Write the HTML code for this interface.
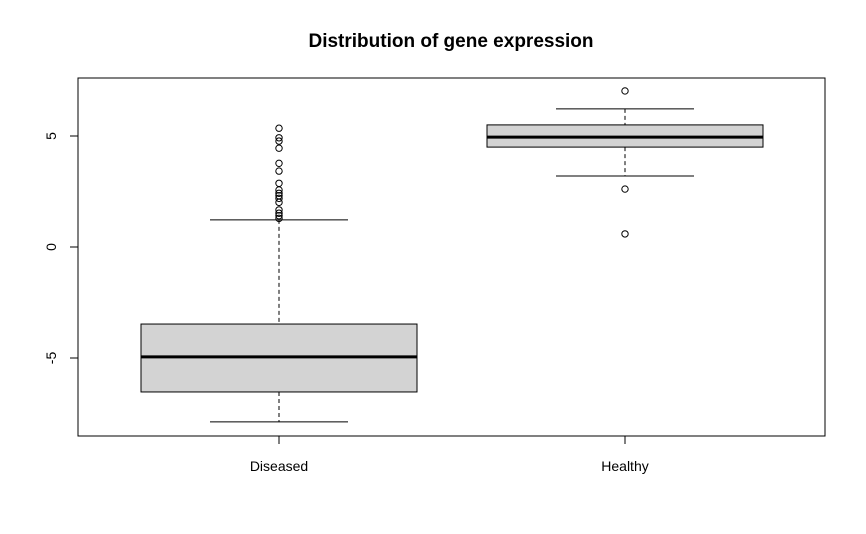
<!DOCTYPE html>
<html><head><meta charset="utf-8"><style>
body{margin:0;background:#fff}
svg{display:block;font-family:"Liberation Sans",Arial,sans-serif}
</style></head><body>
<svg id="chart" width="866" height="534">
<text x="451" y="47" text-anchor="middle" font-size="19" font-weight="bold">Distribution of gene expression</text>
<rect x="78" y="78" width="747" height="358" fill="none" stroke="#000" stroke-width="1"/>
<g id="yaxis"></g>
<g id="xaxis"></g>
<g id="boxes"></g>
</svg>
<script>
const categories=["Diseased","Healthy"];
const lowerWhisker=[-7.88,3.2];
const q1=[-6.53,4.5];
const medians=[-4.95,4.95];
const q3=[-3.47,5.5];
const upperWhisker=[1.22,6.22];
const outliersDiseased=[5.35,4.92,4.77,4.45,3.77,3.42,2.87,2.57,2.42,2.31,2.19,2.01,1.67,1.52,1.41,1.29];
const outliersHealthy=[7.03,2.61,0.59];
const yTicks=[-5,0,5];
const outliers=[outliersDiseased,outliersHealthy];
const NS="http://www.w3.org/2000/svg";
function y(v){return 247-v*22.2;}
function x(i){return 279+i*346;}
const bw=138, cw=69;
function mk(tag,attrs,parent){const e=document.createElementNS(NS,tag);for(const k in attrs)e.setAttribute(k,attrs[k]);parent.appendChild(e);return e;}
const ya=document.getElementById('yaxis'),xa=document.getElementById('xaxis'),bx=document.getElementById('boxes');
yTicks.forEach(t=>{
 const l=mk('line',{x1:70,x2:78,y1:y(t),y2:y(t),stroke:'#000'},ya);
 
 
 const tx=mk('text',{x:0,y:0,'font-size':14,'text-anchor':'middle',transform:`translate(56,${y(t)}) rotate(-90)`},ya);
 tx.textContent=String(t).replace('-','-');
 
 
});
categories.forEach((c,i)=>{
 const cx=x(i);
 const tk=mk('line',{x1:cx,x2:cx,y1:436,y2:444,stroke:'#000'},xa);
 
 
 const lb=mk('text',{x:cx,y:471,'font-size':14,'text-anchor':'middle'},xa);
 lb.textContent=c;
 
 
 const g=mk('g',{},bx);
 
 
 mk('line',{x1:cx,x2:cx,y1:y(upperWhisker[i]),y2:y(q3[i]),stroke:'#000','stroke-dasharray':'4,3'},g);
 mk('line',{x1:cx,x2:cx,y1:y(q1[i]),y2:y(lowerWhisker[i]),stroke:'#000','stroke-dasharray':'4,3'},g);
 mk('line',{x1:cx-cw,x2:cx+cw,y1:y(upperWhisker[i]),y2:y(upperWhisker[i]),stroke:'#000'},g);
 mk('line',{x1:cx-cw,x2:cx+cw,y1:y(lowerWhisker[i]),y2:y(lowerWhisker[i]),stroke:'#000'},g);
 mk('rect',{x:cx-bw,y:y(q3[i]),width:2*bw,height:y(q1[i])-y(q3[i]),fill:'#d3d3d3',stroke:'#000'},g);
 mk('line',{x1:cx-bw,x2:cx+bw,y1:y(medians[i]),y2:y(medians[i]),stroke:'#000','stroke-width':3},g);
 outliers[i].forEach(v=>{
  const p=mk('circle',{cx:cx,cy:y(v),r:3.2,fill:'none',stroke:'#000'},g);
  
  
 });
});
</script>
</body></html>
